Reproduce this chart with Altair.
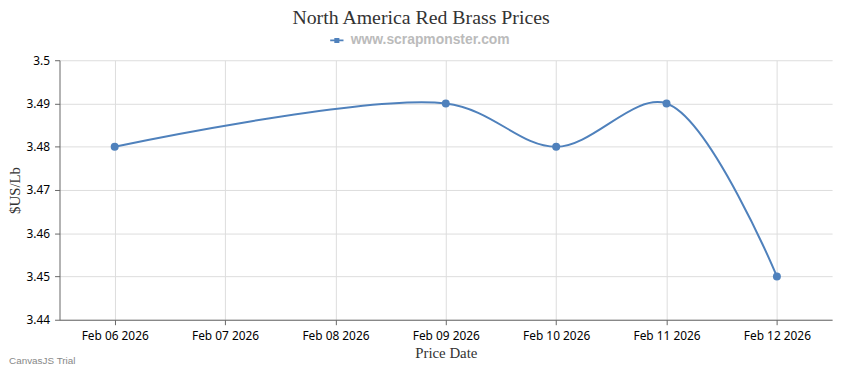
import altair as alt
import pandas as pd

dates = ["2026-02-06", "2026-02-09", "2026-02-10", "2026-02-11", "2026-02-12"]
prices = [3.48, 3.49, 3.48, 3.49, 3.45]
series_name = "www.scrapmonster.com"
chart_title = "North America Red Brass Prices"
tick_days = [6, 7, 8, 9, 10, 11, 12]
y_ticks = [3.44, 3.45, 3.46, 3.47, 3.48, 3.49, 3.5]

df = pd.DataFrame({"date": dates, "price": prices, "series": [series_name] * len(dates)})

blue = "#4F81BC"
x_enc = alt.X(
    "date:T",
    title="Price Date",
    scale=alt.Scale(
        type="utc",
        domain=[alt.DateTime(year=2026, month=2, date=5, hours=12, utc=True),
                alt.DateTime(year=2026, month=2, date=12, hours=12, utc=True)],
    ),
    axis=alt.Axis(
        values=[alt.DateTime(year=2026, month=2, date=d, utc=True) for d in tick_days],
        format="%b %d %Y",
        labelFont="Noto Sans", labelFontSize=12, labelColor="#000", labelPadding=6,
        titleFont="Liberation Serif", titleFontSize=15, titleFontWeight="normal",
        titleColor="#333", titlePadding=4,
        domainColor="#666", tickColor="#666", tickSize=5,
        gridColor="#ddd", grid=True,
    ),
)
y_enc = alt.Y(
    "price:Q",
    title="$US/Lb",
    scale=alt.Scale(domain=[3.44, 3.5], nice=False, zero=False),
    axis=alt.Axis(
        values=y_ticks, format=".2~f",
        labelFont="Noto Sans", labelFontSize=12, labelColor="#000", labelPadding=5,
        titleFont="Liberation Serif", titleFontSize=15, titleFontWeight="normal",
        titleColor="#333", titlePadding=4,
        domainColor="#666", tickColor="#666", tickSize=5,
        gridColor="#ddd", grid=True,
    ),
)

color_enc = alt.Color(
    "series:N",
    scale=alt.Scale(range=[blue]),
    legend=alt.Legend(
        title=None, orient="none", legendX=273, legendY=-27,
        symbolType="M-1,-0.12H1V0.12H-1Z M-0.38,-0.38H0.38V0.38H-0.38Z",
        symbolSize=180, symbolFillColor=blue, symbolStrokeWidth=0,
        labelFont="Liberation Sans", labelFontSize=14, labelFontWeight="bold",
        labelColor="#bbbbbb", labelOffset=7, labelLimit=400,
    ),
)

line = alt.Chart(df).mark_line(interpolate="catmull-rom", strokeWidth=2).encode(
    x=x_enc, y=y_enc, color=color_enc
)
points = alt.Chart(df).mark_point(filled=True, size=65, opacity=1).encode(
    x="date:T", y="price:Q", color=alt.Color("series:N", legend=None)
)
title_mark = alt.Chart(pd.DataFrame({"t": [chart_title]})).mark_text(
    align="center", baseline="middle", font="Liberation Serif", fontSize=20, color="#333"
).encode(text="t:N", x=alt.value(365), y=alt.value(-43))
watermark = alt.Chart(pd.DataFrame({"t": ["CanvasJS Trial"]})).mark_text(
    align="left", baseline="middle", font="Liberation Sans", fontSize=10, color="#888"
).encode(text="t:N", x=alt.value(-51), y=alt.value(304))

chart = alt.layer(line, points, title_mark, watermark).properties(
    width=780,
    height=262,
    autosize=alt.AutoSizeParams(type="none"),
    padding={"left": 52, "top": 51, "right": 10, "bottom": 48},
).configure_view(stroke=None)

chart.save("out.html", embed_options={"renderer": "svg", "actions": False})
